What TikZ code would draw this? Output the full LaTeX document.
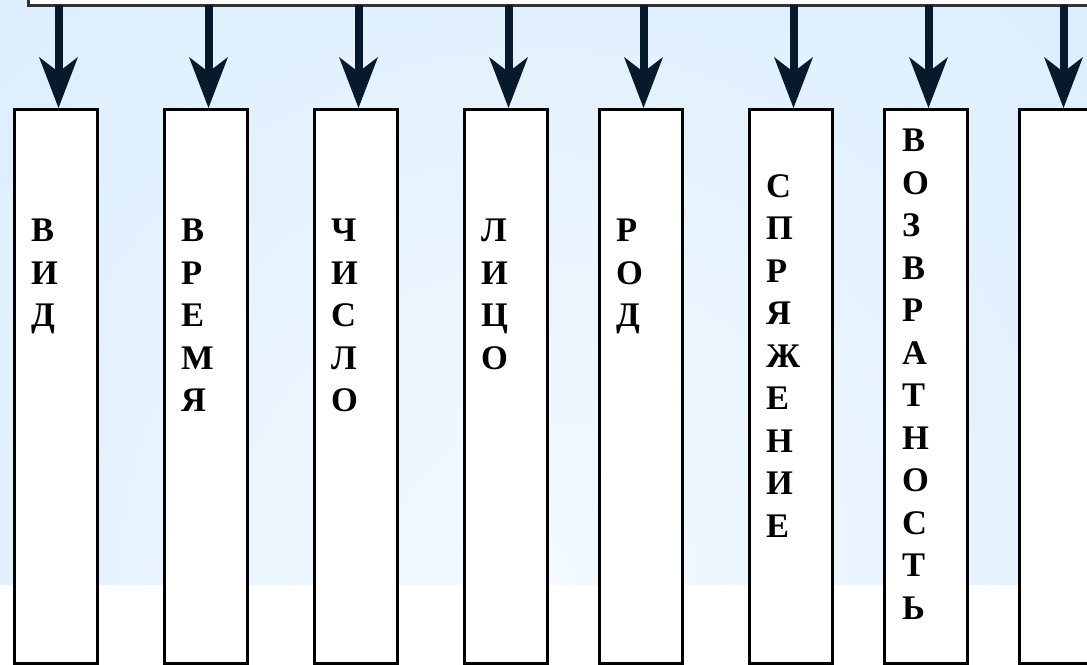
\documentclass[tikz,border=0pt]{standalone}
\usepackage{fontspec}
\setmainfont{Liberation Serif}
\usepackage{tikz}
\usetikzlibrary{arrows.meta}
\usetikzlibrary{positioning}
\usetikzlibrary{calc}
\definecolor{bgblue}{RGB}{206,231,252}
\definecolor{bglight}{RGB}{243,249,255}
\definecolor{arrowblue}{RGB}{6,26,43}
\tikzset{
  col/.style={draw=black, line width=3pt, fill=white, anchor=north west,
    minimum width=83pt, minimum height=554pt, inner sep=0pt},
  word/.style={align=left, inner sep=0pt, font=\fontsize{34.5}{42.5}\selectfont\bfseries},
  arr/.style={arrowblue, line width=8pt,
    -{Stealth[length=51pt, width=39pt, inset=15pt, line width=0pt]}},
  topbox/.style={draw=black!80, line width=2.5pt, fill=white, anchor=south west,
    minimum width=1100pt, minimum height=60pt, inner sep=0pt}
}

\begin{document}
\begin{tikzpicture}[x=1pt, y=1pt]
\clip (0,0) rectangle (1087,664);
\fill[white] (0,0) rectangle (1087,664);
% background
\begin{scope}
\clip (0,79) rectangle (1087,664);
\shade[inner color=bglight, outer color=bgblue] (540,90) circle (1250);
\end{scope}

\node[topbox] (top) at (27,657) {};

% columns
\node[col] (vid) at (12.5,556) {};
\node[col] (vremya) at (162.5,556) {};
\node[col] (chislo) at (312.5,556) {};
\node[col] (litso) at (462.5,556) {};
\node[col] (rod) at (597.5,556) {};
\node[col] (spryazh) at (747.5,556) {};
\node[col] (vozvr) at (882.5,556) {};
\node[col] (pusto) at (1017.5,556) {};

% words
\node[word, below right=111pt and 18.5pt of vid.north west] (vidtxt) {В\\И\\Д};
\node[word, below right=111pt and 18.5pt of vremya.north west] (vremyatxt) {В\\Р\\Е\\М\\Я};
\node[word, below right=111pt and 18.5pt of chislo.north west] (chislotxt) {Ч\\И\\С\\Л\\О};
\node[word, below right=111pt and 18.5pt of litso.north west] (litsotxt) {Л\\И\\Ц\\О};
\node[word, below right=111pt and 18.5pt of rod.north west] (rodtxt) {Р\\О\\Д};
\node[word, below right=66pt and 18.5pt of spryazh.north west] (spryazhtxt) {С\\П\\Р\\Я\\Ж\\Е\\Н\\И\\Е};
\node[word, below right=21pt and 19.5pt of vozvr.north west] (vozvrtxt) {В\\О\\З\\В\\Р\\А\\Т\\Н\\О\\С\\Т\\Ь};

% arrows
\draw[arr] ($(vid.north |- top.south)+(3,2)$) -- ($(vid.north)+(3,0)$);
\draw[arr] ($(vremya.north |- top.south)+(3,2)$) -- ($(vremya.north)+(3,0)$);
\draw[arr] ($(chislo.north |- top.south)+(3,2)$) -- ($(chislo.north)+(3,0)$);
\draw[arr] ($(litso.north |- top.south)+(3,2)$) -- ($(litso.north)+(3,0)$);
\draw[arr] ($(rod.north |- top.south)+(3,2)$) -- ($(rod.north)+(3,0)$);
\draw[arr] ($(spryazh.north |- top.south)+(3,2)$) -- ($(spryazh.north)+(3,0)$);
\draw[arr] ($(vozvr.north |- top.south)+(3,2)$) -- ($(vozvr.north)+(3,0)$);
\draw[arr] ($(pusto.north |- top.south)+(3,2)$) -- ($(pusto.north)+(3,0)$);
\end{tikzpicture}
\end{document}
